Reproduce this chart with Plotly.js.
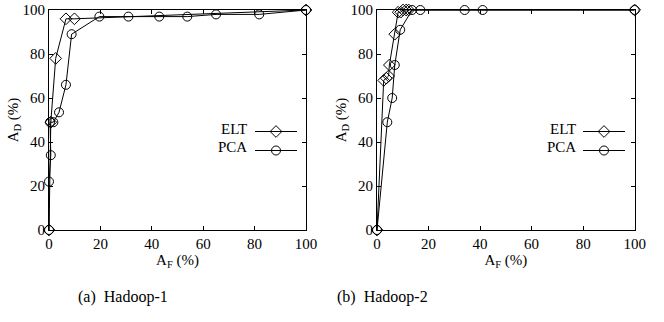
<!DOCTYPE html>
<html>
<head>
<meta charset="utf-8">
<script src="https://cdn.plot.ly/plotly-3.0.1.min.js"></script>
<style>html,body{margin:0;padding:0;background:#fff;}#chart{width:664px;height:322px;}</style>
</head>
<body>
<div id="chart"></div>
<script>
// Hadoop-1
const h1EltX = [0, 0.7, 2.6, 6.6, 9.9, 100];
const h1EltY = [0, 49, 78, 96, 96, 100];
const h1PcaX = [0, 0, 0.7, 0.4, 1.7, 3.9, 6.6, 8.8, 19.6, 30.9, 42.9, 53.8, 65, 81.8, 100];
const h1PcaY = [0, 22, 34, 49, 49, 53.5, 66, 89, 97, 97, 97, 97, 98, 98, 100];
// Hadoop-2
const h2EltX = [0, 2.6, 3.6, 4.5, 4.8, 6.9, 8.2, 9.2, 10.1, 11.3, 12.3, 100];
const h2EltY = [0, 68, 69, 70, 75, 89, 99, 99, 100, 100, 100, 100];
const h2PcaX = [0, 4.0, 5.9, 6.9, 9.0, 13.6, 16.8, 34, 41, 100];
const h2PcaY = [0, 49, 60, 75, 91, 100, 100, 100, 100, 100];
const tickVals = [0, 20, 40, 60, 80, 100];
const captions = ["(a)  Hadoop-1", "(b)  Hadoop-2"];
const seriesNames = ["ELT", "PCA"];

const fam = "'Liberation Serif', 'Times New Roman', Times, serif";
const fnt = {family: fam, size: 15, color: "#000"};
const capFnt = {family: fam, size: 16, color: "#000"};
function tr(x, y, sym, xa, ya, leg) {
  return {x: x, y: y, type: "scatter", mode: "lines+markers", xaxis: xa, yaxis: ya,
    name: " ", legend: leg, cliponaxis: false,
    line: {color: "#000", width: 1},
    marker: {symbol: sym, size: 9, color: "#000", line: {color: "#000", width: 1}}};
}
const data = [
  tr(h1EltX, h1EltY, "diamond-open", "x", "y", "legend"),
  tr(h1PcaX, h1PcaY, "circle-open", "x", "y", "legend"),
  tr(h2EltX, h2EltY, "diamond-open", "x2", "y2", "legend2"),
  tr(h2PcaX, h2PcaY, "circle-open", "x2", "y2", "legend2")
];
function ax(dom, anchor) {
  return {domain: dom, anchor: anchor, range: [0, 100], tickvals: tickVals,
    ticks: "inside", ticklen: 4, tickcolor: "#000", mirror: "allticks",
    showline: true, linecolor: "#000", linewidth: 1, showgrid: false, zeroline: false,
    tickfont: fnt, fixedrange: true};
}
const yd = [1 - 230/322, 1 - 10/322];
const legFnt = {family: fam, size: 8, color: "#000"};
const layout = {
  width: 664, height: 322, margin: {l: 0, r: 0, t: 0, b: 0},
  paper_bgcolor: "#fff", plot_bgcolor: "#fff", font: fnt,
  xaxis: Object.assign(ax([49/664, 306/664], "y"), {title: {text: "A<sub>F</sub> (%)", font: fnt, standoff: 2}}),
  yaxis: Object.assign(ax(yd, "x"), {title: {text: "A<sub>D</sub> (%)", font: fnt, standoff: 0}}),
  xaxis2: Object.assign(ax([377/664, 634.7/664], "y2"), {title: {text: "A<sub>F</sub> (%)", font: fnt, standoff: 2}}),
  yaxis2: Object.assign(ax(yd, "x2"), {title: {text: "A<sub>D</sub> (%)", font: fnt, standoff: 0}}),
  legend: {x: 250/664, y: 1 - 117/322, xanchor: "left", yanchor: "top", bgcolor: "rgba(0,0,0,0)", font: legFnt, itemwidth: 42},
  legend2: {x: 578/664, y: 1 - 117/322, xanchor: "left", yanchor: "top", bgcolor: "rgba(0,0,0,0)", font: legFnt, itemwidth: 42},
  annotations: [
    {text: seriesNames[0], xref: "paper", yref: "paper", x: 249/664, y: 1 - 129/322, showarrow: false, font: fnt, xanchor: "right", yanchor: "middle"},
    {text: seriesNames[1], xref: "paper", yref: "paper", x: 249/664, y: 1 - 147/322, showarrow: false, font: fnt, xanchor: "right", yanchor: "middle"},
    {text: seriesNames[0], xref: "paper", yref: "paper", x: 578/664, y: 1 - 129/322, showarrow: false, font: fnt, xanchor: "right", yanchor: "middle"},
    {text: seriesNames[1], xref: "paper", yref: "paper", x: 578/664, y: 1 - 147/322, showarrow: false, font: fnt, xanchor: "right", yanchor: "middle"},
    {text: captions[0], xref: "paper", yref: "paper", x: 123/664, y: 1 - 297/322, showarrow: false, font: capFnt, xanchor: "center", yanchor: "middle"},
    {text: captions[1], xref: "paper", yref: "paper", x: 382/664, y: 1 - 297/322, showarrow: false, font: capFnt, xanchor: "center", yanchor: "middle"}
  ]
};
Plotly.newPlot("chart", data, layout, {staticPlot: true, displayModeBar: false});
</script>
</body>
</html>
